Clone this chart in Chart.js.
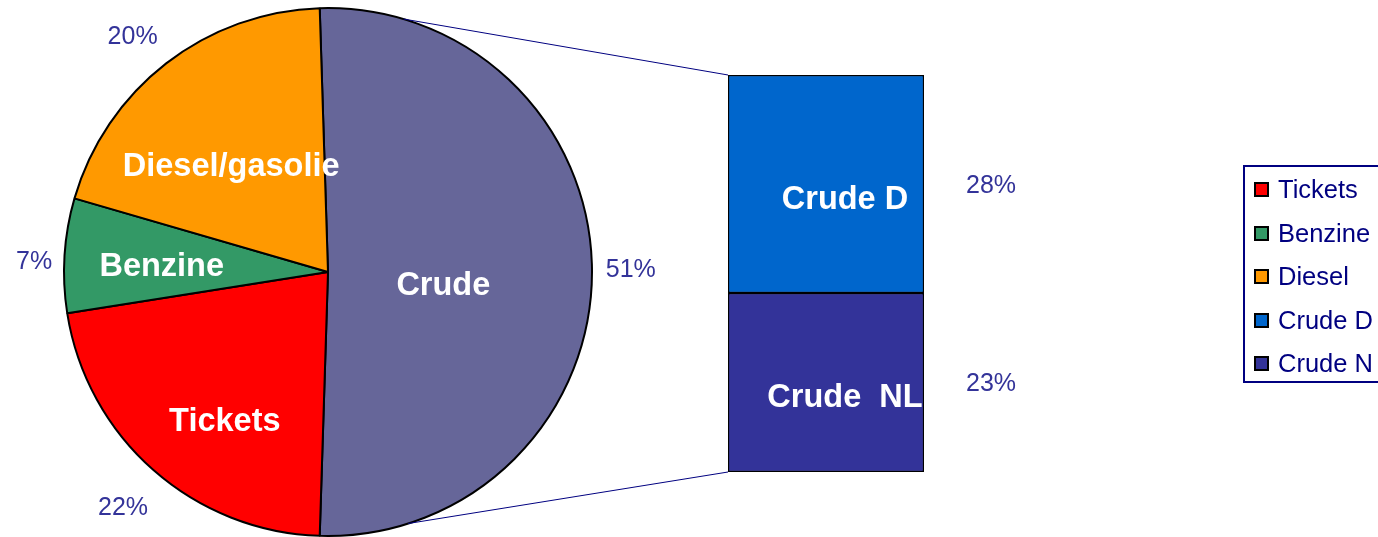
<!DOCTYPE html>
<html>
<head>
<meta charset="utf-8">
<title>Crude pie with bar</title>
<script src="https://cdn.jsdelivr.net/npm/chart.js@4.4.1/dist/chart.umd.min.js"></script>
<style>
  html, body { margin: 0; padding: 0; background: #fff; overflow: hidden; }
  #wrap { position: relative; width: 1378px; height: 537px; }
  #pie { position: absolute; left: 0; top: 0; }
  #bar { position: absolute; left: 700px; top: 55px; }
  #legend { position: absolute; left: 1243px; top: 165px; width: 150px; height: 218px;
            border: 2px solid #000080; box-sizing: border-box; }
  .lg-box { position: absolute; width: 15px; height: 15px; border: 2px solid #000; box-sizing: border-box; }
  .lg-txt { position: absolute; height: 28px; line-height: 28px; font: 25.5px "Liberation Sans", Arial, sans-serif;
            color: #000080; white-space: nowrap; }
</style>
</head>
<body>
<div id="wrap">
  <canvas id="pie" width="1378" height="537"></canvas>
  <canvas id="bar" width="360" height="440"></canvas>
  <div id="legend"></div>
</div>
<script>
'use strict';

/* data */
const pieCategories = ['Crude', 'Tickets', 'Benzine', 'Diesel/gasolie'];
const pieValues = [51, 22, 7, 20];
const pieColors = ['#666699', '#FF0000', '#339966', '#FF9900'];

const barCategories = ['Crude  NL', 'Crude D'];   // bottom to top
const barValues = [23, 28];
const barColors = ['#333399', '#0066CC'];

const legendNames = ['Tickets', 'Benzine', 'Diesel', 'Crude D', 'Crude N'];
const legendColors = ['#FF0000', '#339966', '#FF9900', '#0066CC', '#333399'];

const total = pieValues.reduce((a, b) => a + b, 0);
const pct = v => Math.round(v / total * 100) + '%';

const LABEL_BLUE = '#333399';
const FONT = '"Liberation Sans", Arial, sans-serif';

/* label placement tweaks: [radius factor, angle shift in deg] */
const innerPlace = [[0.44, 6.8], [0.69, -6.9], [0.63, -2.0], [0.54, -5]];
const outerPlace = [[1.147, -0.5], [1.181, -0.3], [1.114, -1.4], [1.161, -1.8]];
/* connector start angles on the pie rim, degrees clockwise from top */
const connectorAngles = [16.6, 162.3];

/* =============================================
   BAR (breakdown of Crude)
   ============================================= */
const barLabelPlugin = {
  id: 'barLabels',
  afterDatasetsDraw(chart) {
    const ctx = chart.ctx;
    ctx.save();
    ctx.textAlign = 'center';
    ctx.textBaseline = 'middle';
    chart.data.datasets.forEach((ds, i) => {
      const el = chart.getDatasetMeta(i).data[0];
      const cy = (el.y + el.base) / 2;
      ctx.fillStyle = '#fff';
      ctx.font = 'bold 32.5px ' + FONT;
      ctx.fillText(ds.label, el.x + 19, cy + 16);
      ctx.fillStyle = LABEL_BLUE;
      ctx.font = '25px ' + FONT;
      ctx.fillText(pct(ds.data[0]), el.x + el.width / 2 + 67, cy + 2);
    });
    ctx.restore();
  }
};

const barChart = new Chart(document.getElementById('bar'), {
  type: 'bar',
  data: {
    labels: ['Crude'],
    datasets: barCategories.map((name, i) => ({
      label: name,
      data: [barValues[i]],
      backgroundColor: barColors[i],
      borderColor: '#000',
      borderWidth: 1.5,
      borderSkipped: false,
      barPercentage: 1,
      categoryPercentage: 1
    }))
  },
  options: {
    responsive: false,
    animation: false,
    layout: { padding: { left: 28, right: 136, top: 20, bottom: 23 } },
    plugins: { legend: { display: false }, tooltip: { enabled: false } },
    scales: {
      x: { stacked: true, display: false },
      y: { stacked: true, display: false, min: 0, max: barValues.reduce((a, b) => a + b, 0) }
    }
  },
  plugins: [barLabelPlugin]
});

/* =============================================
   PIE
   ============================================= */
const pieLabelPlugin = {
  id: 'pieLabels',
  afterDatasetsDraw(chart) {
    const ctx = chart.ctx;
    const meta = chart.getDatasetMeta(0);
    const rad = d => d * Math.PI / 180;
    ctx.save();
    ctx.textAlign = 'center';
    ctx.textBaseline = 'middle';
    meta.data.forEach((arc, i) => {
      const mid = (arc.startAngle + arc.endAngle) / 2;
      const R = arc.outerRadius;
      const [f, s] = innerPlace[i];
      const a = mid + rad(s);
      ctx.fillStyle = '#fff';
      ctx.font = 'bold 32.5px ' + FONT;
      ctx.fillText(pieCategories[i], arc.x + Math.cos(a) * R * f, arc.y + Math.sin(a) * R * f);
      const [fo, so] = outerPlace[i];
      const b = mid + rad(so);
      ctx.fillStyle = LABEL_BLUE;
      ctx.font = '25px ' + FONT;
      ctx.fillText(pct(pieValues[i]), arc.x + Math.cos(b) * R * fo, arc.y + Math.sin(b) * R * fo + 1);
    });

    // connector lines to the bar corners
    const barCanvas = document.getElementById('bar');
    const ox = barCanvas.offsetLeft, oy = barCanvas.offsetTop;
    const last = barChart.data.datasets.length - 1;
    const topEl = barChart.getDatasetMeta(last).data[0];
    const botEl = barChart.getDatasetMeta(0).data[0];
    const left = ox + topEl.x - topEl.width / 2;
    const corners = [[left, oy + topEl.y], [left, oy + botEl.base]];
    const arc0 = meta.data[0];
    ctx.strokeStyle = '#000080';
    ctx.lineWidth = 1;
    connectorAngles.forEach((deg, k) => {
      const a = rad(deg - 90);
      ctx.beginPath();
      ctx.moveTo(arc0.x + Math.cos(a) * arc0.outerRadius, arc0.y + Math.sin(a) * arc0.outerRadius);
      ctx.lineTo(corners[k][0], corners[k][1]);
      ctx.stroke();
    });
    ctx.restore();
  }
};

new Chart(document.getElementById('pie'), {
  type: 'pie',
  data: {
    labels: pieCategories,
    datasets: [{
      data: pieValues,
      backgroundColor: pieColors,
      borderColor: '#000',
      borderWidth: 2
    }]
  },
  options: {
    responsive: false,
    animation: false,
    rotation: -1.8,
    layout: { padding: { left: 63, top: 7, right: 785, bottom: 0 } },
    plugins: { legend: { display: false }, tooltip: { enabled: false } }
  },
  plugins: [pieLabelPlugin]
});

/* =============================================
   LEGEND
   ============================================= */
(function () {
  const wrap = document.getElementById('wrap');
  legendNames.forEach((name, i) => {
    const rowY = 189 + i * 43.5;
    const box = document.createElement('div');
    box.className = 'lg-box';
    box.style.left = '1254px';
    box.style.top = (rowY - 7) + 'px';
    box.style.background = legendColors[i];
    const txt = document.createElement('div');
    txt.className = 'lg-txt';
    txt.style.left = '1278px';
    txt.style.top = (rowY - 14) + 'px';
    txt.textContent = name;
    wrap.appendChild(box);
    wrap.appendChild(txt);
  });
})();
</script>
</body>
</html>
